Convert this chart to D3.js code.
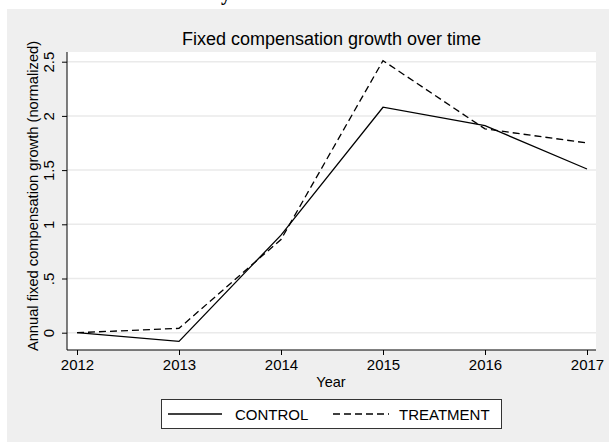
<!DOCTYPE html>
<html>
<head>
<meta charset="utf-8">
<script src="https://cdn.jsdelivr.net/npm/d3@7"></script>
<style>
    body { margin: 0; background: #fff; }
    svg { display: block; font-family: "Liberation Sans", Arial, sans-serif; }
</style>
</head>
<body>
<svg id="chart" width="609" height="444"></svg>
<script>
// data
var years = [2012, 2013, 2014, 2015, 2016, 2017];
var control = [0, -0.08, 0.90, 2.08, 1.91, 1.51];
var treatment = [0, 0.04, 0.86, 2.51, 1.88, 1.75];
var yTicks = [0, 0.5, 1, 1.5, 2, 2.5];
var yTickLabels = ["0", ".5", "1", "1.5", "2", "2.5"];
var seriesNames = ["CONTROL", "TREATMENT"];

var svg = d3.select("#chart");

// cropped glyph from the page above the figure
svg.append("text")
    .attr("x", 221).attr("y", 0)
    .attr("font-family", "Liberation Serif")
    .attr("font-weight", "bold")
    .attr("font-size", 20)
    .text("y");

// figure background
svg.append("rect")
    .attr("x", 7).attr("y", 9)
    .attr("width", 602).attr("height", 433)
    .attr("fill", "#efefef");

var plot = { left: 67, right: 596, top: 52, bottom: 350 };

svg.append("rect")
    .attr("x", plot.left).attr("y", plot.top)
    .attr("width", plot.right - plot.left).attr("height", plot.bottom - plot.top)
    .attr("fill", "#fff");

var x = d3.scaleLinear().domain([2012, 2017]).range([77, 587]);
var y = d3.scaleLinear().domain([0, 2.5]).range([332.7, 61.7]);

// grid lines
svg.append("g")
    .selectAll("line")
    .data(yTicks)
    .enter().append("line")
    .attr("x1", plot.left).attr("x2", plot.right)
    .attr("y1", function (d) { return y(d); })
    .attr("y2", function (d) { return y(d); })
    .attr("stroke", "#eaeaea")
    .attr("stroke-width", 1.5);

// y axis
var yAxis = svg.append("g")
    .attr("transform", "translate(" + plot.left + ",0)")
    .call(d3.axisLeft(y).tickValues(yTicks)
        .tickFormat(function (d, i) { return yTickLabels[i]; })
        .tickSize(5).tickSizeOuter(0));
yAxis.select(".domain").remove();
yAxis.append("line")
    .attr("x1", 0).attr("x2", 0)
    .attr("y1", plot.top).attr("y2", plot.bottom)
    .attr("stroke", "#000");
yAxis.selectAll(".tick text")
    .attr("x", null)
    .attr("dy", 0)
    .attr("text-anchor", "middle")
    .attr("font-size", 15)
    .attr("fill", "#000")
    .attr("transform", "translate(-13,0) rotate(-90)");

// x axis
var xAxis = svg.append("g")
    .attr("transform", "translate(0," + plot.bottom + ")")
    .call(d3.axisBottom(x).tickValues(years).tickFormat(d3.format("d"))
        .tickSize(5).tickPadding(4).tickSizeOuter(0));
xAxis.select(".domain").remove();
xAxis.append("line")
    .attr("x1", plot.left).attr("x2", plot.right)
    .attr("y1", 0).attr("y2", 0)
    .attr("stroke", "#000");
xAxis.selectAll(".tick text")
    .attr("font-size", 15)
    .attr("fill", "#000");

// axis titles
svg.append("text")
    .attr("x", 331).attr("y", 387)
    .attr("text-anchor", "middle")
    .attr("font-size", 14.5)
    .text("Year");

svg.append("text")
    .attr("transform", "translate(38,196) rotate(-90)")
    .attr("text-anchor", "middle")
    .attr("font-size", 14.7)
    .text("Annual fixed compensation growth (normalized)");

// title
svg.append("text")
    .attr("x", (plot.left + plot.right) / 2).attr("y", 45)
    .attr("text-anchor", "middle")
    .attr("font-size", 18)
    .text("Fixed compensation growth over time");

// series lines
var line = d3.line()
    .x(function (d, i) { return x(years[i]); })
    .y(function (d) { return y(d); });

svg.append("path")
    .datum(control)
    .attr("d", line)
    .attr("fill", "none")
    .attr("stroke", "#000")
    .attr("stroke-width", 1.3);

svg.append("path")
    .datum(treatment)
    .attr("d", line)
    .attr("fill", "none")
    .attr("stroke", "#000")
    .attr("stroke-width", 1.3)
    .attr("stroke-dasharray", "7,4");

// legend
var legend = svg.append("g");
legend.append("rect")
    .attr("x", 161.5).attr("y", 399.5)
    .attr("width", 340).attr("height", 29)
    .attr("fill", "#fff")
    .attr("stroke", "#333");

var legendItems = [
    { name: seriesNames[0], x1: 168, x2: 222, tx: 235, dash: null },
    { name: seriesNames[1], x1: 333, x2: 389, tx: 399, dash: "7,4" }
];
legendItems.forEach(function (item) {
    legend.append("line")
        .attr("x1", item.x1).attr("x2", item.x2)
        .attr("y1", 414).attr("y2", 414)
        .attr("stroke", "#000")
        .attr("stroke-width", 1.3)
        .attr("stroke-dasharray", item.dash);
    legend.append("text")
        .attr("x", item.tx).attr("y", 419.5)
        .attr("font-size", 15)
        .text(item.name);
});
</script>
</body>
</html>
